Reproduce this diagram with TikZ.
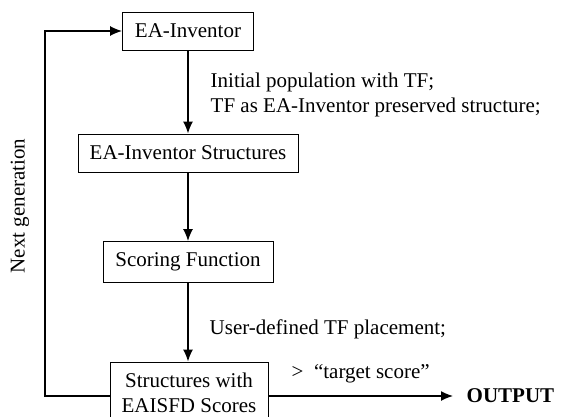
\documentclass[tikz,border=0pt]{standalone}
\usepackage{fontspec}
\setmainfont{Liberation Serif}
\usepackage{tikz}
\usetikzlibrary{arrows.meta}

\begin{document}
\begin{tikzpicture}[x = 1pt, y = -1pt, >= {Latex[length = 12pt, width = 10pt]}, line width = 1.4pt,
    font = \fontsize{21}{25}\selectfont,
    box/.style = {draw, line width = 0.9pt, inner sep = 0pt, minimum height = 38pt},
    note/.style = {anchor = west, align = left, inner sep = 0pt}]
          \clip (0,0) rectangle (563,416);
          \node[box, minimum width = 131pt] (inv) at (188,31) {EA-Inventor};
          \node[box, minimum width = 220pt] (str) at (188,153) {EA-Inventor Structures};
          \node[box, minimum width = 170pt, minimum height = 41pt] (scr) at (188,262) {Scoring Function};
          \node[box, minimum width = 158pt, minimum height = 62pt, align = center] (res) at (189,393) {Structures with\\EAISFD Scores};
          \node[note, font = \fontsize{21}{25}\selectfont\bfseries] (out) at (466,396) {OUTPUT};
          \coordinate (lp) at (45,396);
          \draw[->] (inv) -- (inv |- str.north);
          \draw[->] (str) -- (scr);
          \draw[->] (scr) -- (scr |- res.north);
          \draw[->] (res.east |- out) -- ([xshift = -13pt]out.west);
          \draw[->] (res.west |- lp) -- (lp) |- (inv.west);
          \node[note] at (210,95) {Initial population with TF;\\TF as EA-Inventor preserved structure;};
          \node[note] at (209,329) {User-defined TF placement;};
          \node[note] at (291,374) {>\ \ ``target score''};
          \node[rotate = 90] at (20,206) {Next generation};
        \end{tikzpicture}
\end{document}
